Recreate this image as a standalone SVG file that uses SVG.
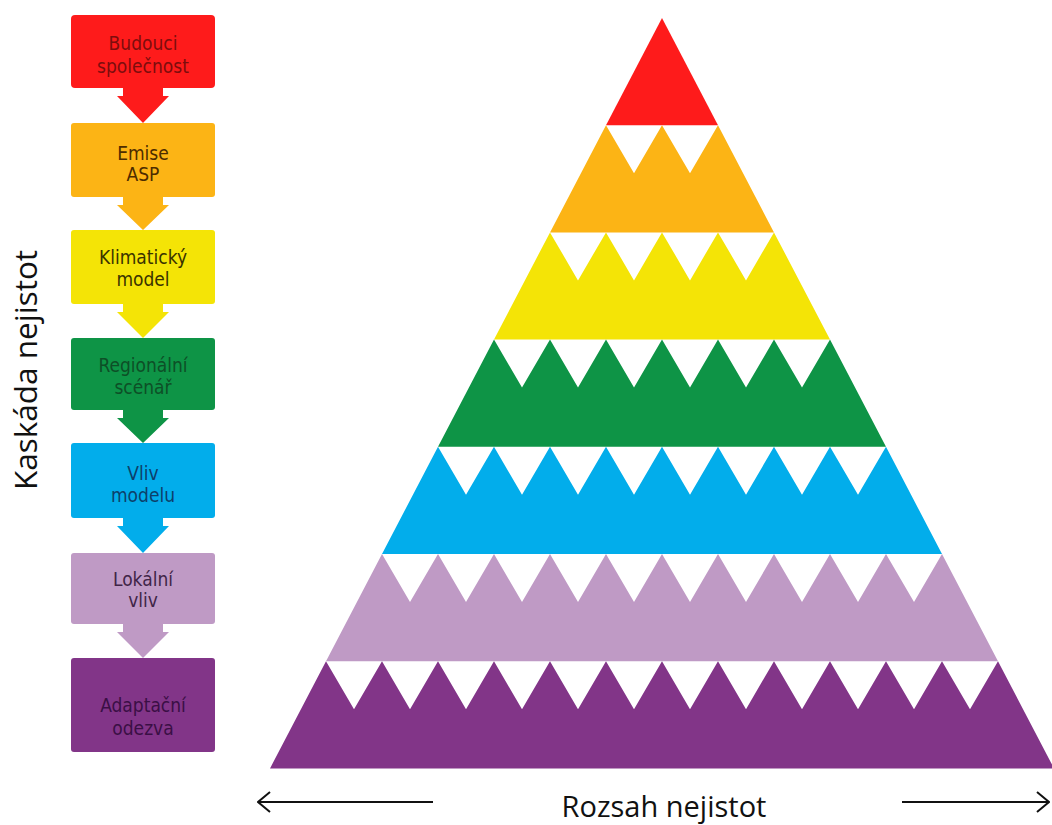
<svg xmlns="http://www.w3.org/2000/svg" width="1052" height="825" viewBox="0 0 1052 825">
  <defs>
    <style>
      .lbl { font-family: "Liberation Sans Narrow", "DejaVu Sans Condensed", "Liberation Sans", sans-serif; font-size: 19px; text-anchor: middle; }
      .axis { font-family: "Open Sans", "DejaVu Sans", sans-serif; font-size: 29px; fill: #111111; text-anchor: middle; }
      .axl { stroke: #111111; stroke-width: 2; fill: none; }
      .red { fill: #fe1b1b; }
      .orange { fill: #fcb415; }
      .yellow { fill: #f4e406; }
      .green { fill: #0e9446; }
      .blue { fill: #02adeb; }
      .lav { fill: #bf9ac5; }
      .purple { fill: #823588; }
    </style>
    <marker id="open" viewBox="0 0 14 22" refX="13" refY="11" markerWidth="14" markerHeight="22" markerUnits="userSpaceOnUse" orient="auto">
      <path d="M1,1 L13,11 L1,21" stroke="#111111" stroke-width="2" fill="none"/>
    </marker>
  </defs>
  <rect width="1052" height="825" fill="#ffffff"/>

  <g id="connectors">
    <path class="red" d="M123,88 H163 V96 H169 L143,123 L117,96 H123 Z"/>
    <path class="orange" d="M123,197 H163 V205 H169 L143,230 L117,205 H123 Z"/>
    <path class="yellow" d="M123,304 H163 V312 H169 L143,338 L117,312 H123 Z"/>
    <path class="green" d="M123,410 H163 V418 H169 L143,443 L117,418 H123 Z"/>
    <path class="blue" d="M123,518 H163 V526 H169 L143,553 L117,526 H123 Z"/>
    <path class="lav" d="M123,624 H163 V632 H169 L143,658 L117,632 H123 Z"/>
    <line class="axl" x1="433" y1="802" x2="258" y2="802" marker-end="url(#open)"/>
    <line class="axl" x1="902" y1="802" x2="1049" y2="802" marker-end="url(#open)"/>
  </g>

  <g id="node-budouci">
    <rect class="red" x="71" y="15" width="144" height="73" rx="4"/>
    <text class="lbl" x="143" y="50" fill="#7d0d0d">Budouci</text>
    <text class="lbl" x="143" y="73" fill="#7d0d0d">společnost</text>
  </g>
  <g id="node-emise">
    <rect class="orange" x="71" y="123" width="144" height="74" rx="3"/>
    <text class="lbl" x="143" y="160" fill="#4d2c00">Emise</text>
    <text class="lbl" x="143" y="181" fill="#4d2c00">ASP</text>
  </g>
  <g id="node-klima">
    <rect class="yellow" x="71" y="230" width="144" height="74" rx="3"/>
    <text class="lbl" x="143" y="264" fill="#3a3300">Klimatický</text>
    <text class="lbl" x="143" y="286" fill="#3a3300">model</text>
  </g>
  <g id="node-regional">
    <rect class="green" x="71" y="338" width="144" height="72" rx="3"/>
    <text class="lbl" x="143" y="372" fill="#0d4f27">Regionální</text>
    <text class="lbl" x="143" y="394" fill="#0d4f27">scénář</text>
  </g>
  <g id="node-vliv">
    <rect class="blue" x="71" y="443" width="144" height="75" rx="3"/>
    <text class="lbl" x="143" y="480" fill="#0d3f6a">Vliv</text>
    <text class="lbl" x="143" y="502" fill="#0d3f6a">modelu</text>
  </g>
  <g id="node-lokal">
    <rect class="lav" x="71" y="553" width="144" height="71" rx="3"/>
    <text class="lbl" x="143" y="586" fill="#3f2548">Lokální</text>
    <text class="lbl" x="143" y="607" fill="#3f2548">vliv</text>
  </g>
  <g id="node-adapt">
    <rect class="purple" x="71" y="658" width="144" height="94" rx="3"/>
    <text class="lbl" x="143" y="712" fill="#3a0f45">Adaptační</text>
    <text class="lbl" x="143" y="735" fill="#3a0f45">odezva</text>
  </g>

  <g id="pyramid">
    <polygon class="red" points="662,18 718,125.2 606,125.2"/>
    <polygon class="orange" points="606,125.2 634,173.2 662,125.2 690,173.2 718,125.2 774,232.4 550,232.4"/>
    <polygon class="yellow" points="550,232.4 578,280.4 606,232.4 634,280.4 662,232.4 690,280.4 718,232.4 746,280.4 774,232.4 830,339.6 494,339.6"/>
    <polygon class="green" points="494,339.6 522,387.6 550,339.6 578,387.6 606,339.6 634,387.6 662,339.6 690,387.6 718,339.6 746,387.6 774,339.6 802,387.6 830,339.6 886,446.8 438,446.8"/>
    <polygon class="blue" points="438,446.8 466,494.8 494,446.8 522,494.8 550,446.8 578,494.8 606,446.8 634,494.8 662,446.8 690,494.8 718,446.8 746,494.8 774,446.8 802,494.8 830,446.8 858,494.8 886,446.8 942,554 382,554"/>
    <polygon class="lav" points="382,554 410,602 438,554 466,602 494,554 522,602 550,554 578,602 606,554 634,602 662,554 690,602 718,554 746,602 774,554 802,602 830,554 858,602 886,554 914,602 942,554 998,661.2 326,661.2"/>
    <polygon class="purple" points="326,661.2 354,709.2 382,661.2 410,709.2 438,661.2 466,709.2 494,661.2 522,709.2 550,661.2 578,709.2 606,661.2 634,709.2 662,661.2 690,709.2 718,661.2 746,709.2 774,661.2 802,709.2 830,661.2 858,709.2 886,661.2 914,709.2 942,661.2 970,709.2 998,661.2 1054,768.4 270,768.4"/>
  </g>

  <g id="axis-labels">
    <text class="axis" style="font-size:31.5px" transform="translate(37,370) rotate(-90)">Kaskáda nejistot</text>
    <text class="axis" x="664" y="817">Rozsah nejistot</text>
  </g>
</svg>
